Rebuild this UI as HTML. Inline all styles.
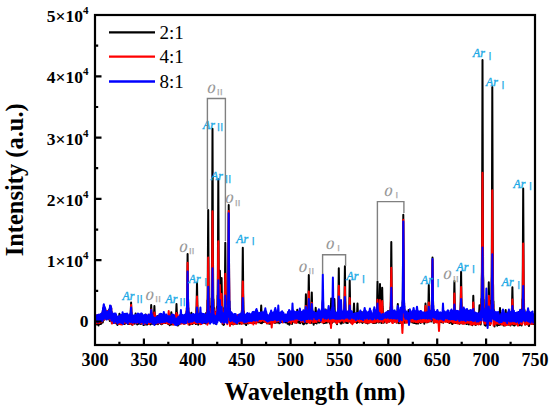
<!DOCTYPE html>
<html><head><meta charset="utf-8"><style>
html,body{margin:0;padding:0;background:#fff;width:550px;height:411px;overflow:hidden}
svg{display:block}
</style></head><body>
<svg width="550" height="411" viewBox="0 0 550 411">
<path d="M96.30 318.3 96.75 324.5 97.20 317.1 97.65 324.4 98.10 317.7 98.55 325.4 99.00 318.3 99.45 323.4 99.90 318.2 100.35 324.1 100.80 316.5 101.25 323.7 101.70 314.9 102.15 321.6 102.60 312.8 102.80 322.6 103.00 310.6 103.20 320.8 103.40 310.6 103.60 308.9 103.80 308.0 104.00 308.5 104.20 310.0 104.40 319.6 104.60 309.0 104.80 318.7 105.00 310.3 105.30 311.0 105.75 318.0 106.20 311.4 106.65 316.9 107.10 311.6 107.55 318.2 108.00 311.8 108.45 318.6 108.90 309.9 109.35 319.6 109.40 319.5 109.60 309.2 109.80 321.0 110.00 307.0 110.20 308.8 110.40 307.1 110.60 306.5 110.80 307.6 111.00 309.9 111.20 308.2 111.40 320.8 111.60 312.0 111.80 323.2 112.05 322.3 112.50 315.1 112.95 322.7 113.40 315.7 113.85 321.7 114.30 317.1 114.75 321.8 115.20 317.6 115.65 322.8 116.10 316.8 116.55 323.6 117.00 318.0 117.45 325.0 117.90 317.5 118.23 322.9 118.43 317.1 118.63 324.0 118.83 316.8 119.03 318.4 119.23 315.9 119.43 313.7 119.63 316.0 119.83 318.4 120.03 315.0 120.23 323.3 120.43 316.9 120.63 323.0 121.05 323.7 121.50 316.6 121.95 323.0 122.40 317.5 122.85 324.0 123.30 317.0 123.75 323.0 124.20 316.1 124.65 324.1 124.90 317.0 125.10 323.0 125.30 316.4 125.50 322.9 125.70 318.4 125.90 316.0 126.10 313.9 126.30 316.0 126.50 318.4 126.70 322.7 126.90 316.2 127.10 323.3 127.30 316.3 127.35 323.5 127.80 319.1 128.25 324.1 128.70 316.9 129.15 324.1 129.60 317.4 129.90 316.3 130.10 323.2 130.30 314.8 130.50 323.5 130.70 313.8 130.90 307.7 131.10 302.5 131.30 307.7 131.50 313.8 131.70 323.5 131.90 315.1 132.10 324.8 132.30 316.7 132.30 315.4 132.75 323.5 133.20 317.9 133.65 322.9 134.10 316.4 134.41 316.9 134.61 323.8 134.81 316.8 135.01 323.2 135.21 318.2 135.41 315.7 135.61 313.4 135.81 315.7 136.01 318.2 136.21 323.2 136.41 315.5 136.61 323.7 136.81 316.8 137.25 324.5 137.70 316.3 138.15 323.9 138.60 316.4 139.05 322.7 139.50 316.9 139.95 323.7 140.40 316.7 140.79 317.6 140.99 323.9 141.19 316.4 141.39 322.8 141.59 318.6 141.79 316.4 141.99 314.3 142.19 316.4 142.39 318.6 142.59 322.0 142.79 316.7 142.99 323.5 143.19 316.3 143.55 325.1 144.00 317.2 144.45 323.7 144.50 317.3 144.70 322.9 144.90 317.6 145.10 324.4 145.30 318.6 145.50 316.5 145.70 314.6 145.90 316.5 146.10 318.6 146.30 323.6 146.50 316.9 146.70 324.6 146.90 316.4 147.15 324.6 147.60 317.5 148.05 323.4 148.50 317.1 148.95 323.5 149.40 316.7 149.85 322.9 150.00 323.4 150.20 316.3 150.40 324.4 150.60 314.1 150.80 314.7 151.00 309.5 151.20 305.1 151.40 309.5 151.60 314.7 151.80 313.0 152.00 323.7 152.20 315.8 152.40 322.7 152.55 323.1 153.00 316.0 153.20 315.4 153.40 323.9 153.60 315.0 153.80 323.5 154.00 315.0 154.20 310.2 154.40 306.0 154.60 310.2 154.80 315.1 155.00 323.4 155.20 316.1 155.40 324.2 155.60 316.3 155.70 316.5 156.15 323.7 156.60 317.2 157.05 322.8 157.50 316.0 157.95 324.2 158.40 316.2 158.85 322.7 159.30 316.3 159.75 323.1 160.20 317.7 160.65 323.7 161.10 317.6 161.55 324.3 162.00 317.8 162.45 323.7 162.90 316.8 163.35 323.1 163.80 316.9 164.25 323.0 164.70 316.4 165.15 323.1 165.60 316.3 166.05 322.3 166.50 316.8 166.95 322.5 167.40 317.0 167.85 323.8 168.30 316.8 168.75 324.0 169.20 317.5 169.65 325.3 170.10 317.9 170.14 316.2 170.34 324.6 170.54 316.8 170.74 323.4 170.94 317.8 171.14 314.9 171.34 312.2 171.54 314.9 171.74 317.8 171.94 324.4 172.14 316.2 172.34 324.1 172.54 317.7 172.80 316.9 173.25 323.6 173.70 316.9 174.15 323.1 174.60 316.4 175.05 324.6 175.30 323.4 175.50 316.2 175.70 323.7 175.90 313.8 176.10 314.4 176.30 308.8 176.50 304.1 176.70 308.8 176.90 314.4 177.10 312.7 177.30 324.1 177.50 316.2 177.70 322.9 177.75 325.6 178.20 318.7 178.65 324.6 179.10 317.7 179.55 323.1 180.00 318.2 180.45 323.4 180.90 316.6 181.35 321.8 181.80 316.2 182.25 322.9 182.70 315.3 183.15 323.1 183.60 316.1 184.05 323.8 184.50 316.7 184.95 322.7 185.40 315.6 185.85 323.3 186.30 314.6 186.40 313.1 186.60 321.6 186.80 308.1 187.00 315.4 187.20 294.8 187.40 272.9 187.60 254.1 187.80 272.9 188.00 294.8 188.20 315.8 188.40 307.9 188.60 322.8 188.80 312.5 189.00 312.9 189.45 324.8 189.90 316.5 190.19 323.9 190.39 316.5 190.59 324.2 190.79 314.6 190.99 317.5 191.19 315.1 191.39 312.8 191.59 315.1 191.79 317.7 191.99 315.3 192.19 323.8 192.39 316.4 192.59 324.0 192.60 315.7 193.05 322.3 193.50 316.3 193.95 322.7 194.40 316.0 194.85 323.0 195.30 315.2 195.75 324.1 195.80 323.1 196.00 313.7 196.20 324.1 196.40 308.6 196.60 305.9 196.80 293.3 197.00 282.6 197.20 293.3 197.40 305.9 197.60 309.5 197.80 321.9 198.00 314.6 198.20 324.7 198.45 322.7 198.90 315.7 199.35 322.6 199.80 316.6 200.25 322.4 200.70 315.5 201.15 322.9 201.60 316.6 202.05 322.9 202.50 316.2 202.95 322.3 203.40 316.5 203.85 323.1 204.30 315.8 204.75 322.6 205.20 315.1 205.65 323.4 206.10 312.9 206.55 322.4 207.00 310.3 207.20 318.2 207.40 300.3 207.60 306.2 207.80 277.1 208.00 240.8 208.20 209.9 208.40 240.6 208.60 276.6 208.80 305.9 209.00 300.8 209.20 318.6 209.40 306.1 209.70 309.9 210.15 321.6 210.60 309.5 211.05 319.4 211.30 315.2 211.50 298.0 211.70 301.3 211.90 273.9 212.10 245.2 212.30 182.4 212.50 128.8 212.70 182.5 212.90 245.3 213.10 273.8 213.30 304.5 213.50 299.0 213.70 313.0 213.75 312.5 214.20 308.1 214.65 322.9 215.10 312.5 215.55 323.8 216.00 312.0 216.45 320.7 216.90 307.3 217.10 306.3 217.30 315.1 217.50 295.4 217.70 298.0 217.90 264.5 218.10 218.6 218.30 179.3 218.50 217.8 218.70 262.7 218.70 270.6 218.90 281.0 218.90 292.4 219.10 302.4 219.10 290.7 219.30 294.7 219.30 307.7 219.50 289.7 219.50 293.4 219.70 281.5 219.90 270.8 220.10 283.5 220.30 297.8 220.40 298.7 220.50 300.4 220.60 314.5 220.70 313.7 220.80 305.0 220.90 304.0 221.00 315.7 221.10 312.1 221.20 300.6 221.40 288.5 221.60 278.0 221.80 289.4 222.00 302.5 222.20 317.9 222.40 309.1 222.60 324.3 222.80 311.3 223.20 312.3 223.65 324.9 224.10 324.4 224.30 307.4 224.50 318.0 224.70 299.7 224.90 289.4 225.10 264.2 225.30 242.7 225.50 264.1 225.70 289.1 225.90 298.2 226.10 316.7 226.30 307.7 226.50 320.4 226.80 310.9 227.25 322.3 227.50 308.3 227.70 318.5 227.90 299.5 228.10 300.7 228.30 274.9 228.50 237.2 228.70 205.0 228.90 237.4 229.10 275.2 229.30 304.2 229.50 300.9 229.70 317.3 229.90 308.6 229.95 322.1 230.25 323.7 230.45 313.2 230.65 324.3 230.85 313.0 231.05 316.4 231.25 314.9 231.45 313.4 231.65 315.4 231.85 317.4 232.05 315.4 232.25 322.8 232.45 316.2 232.65 324.2 233.10 315.5 233.55 324.3 233.92 315.7 234.12 323.6 234.32 315.6 234.52 323.5 234.72 318.2 234.92 316.3 235.12 314.5 235.32 316.3 235.52 318.3 235.72 323.1 235.92 316.7 236.12 323.8 236.32 316.2 236.70 318.0 237.15 323.8 237.60 315.5 238.05 323.5 238.50 316.3 238.95 322.8 239.40 316.4 239.85 323.7 240.30 314.8 240.75 323.2 241.20 314.6 241.60 323.5 241.80 310.8 242.00 319.3 242.20 302.3 242.40 292.3 242.60 268.2 242.80 247.7 243.00 268.2 243.20 292.2 243.40 301.4 243.60 318.3 243.80 311.3 244.00 323.5 244.35 323.3 244.80 315.2 245.25 323.7 245.70 316.9 246.15 325.1 246.60 317.5 247.05 323.1 247.50 316.9 247.95 323.4 248.40 315.8 248.85 323.2 249.30 316.0 249.75 321.7 250.20 314.9 250.65 322.7 251.10 316.3 251.55 322.7 252.00 316.8 252.45 322.6 252.90 316.6 253.35 322.4 253.80 318.4 254.25 322.5 254.70 316.7 255.15 323.1 255.53 322.3 255.73 316.8 255.93 322.5 256.13 315.6 256.33 317.5 256.53 315.0 256.73 312.8 256.93 315.0 257.13 317.5 257.33 315.4 257.53 322.3 257.73 316.5 257.93 321.6 258.30 317.4 258.75 322.3 259.20 318.6 259.65 322.2 260.00 315.7 260.20 322.2 260.40 314.9 260.60 323.0 260.80 314.5 261.00 309.7 261.20 305.6 261.40 309.7 261.60 314.5 261.80 323.2 262.00 315.3 262.20 322.7 262.40 315.3 262.80 316.3 263.25 322.1 263.70 316.3 264.15 321.8 264.60 316.1 265.05 321.8 265.50 316.3 265.95 322.0 266.40 317.2 266.85 323.2 267.30 317.1 267.75 322.3 268.20 316.2 268.65 323.5 269.10 318.0 269.55 323.7 270.00 317.2 270.45 323.7 270.90 315.8 271.35 323.3 271.80 317.7 272.25 322.2 272.70 316.4 273.15 322.3 273.60 317.1 274.05 321.8 274.50 315.8 274.95 323.0 275.40 317.6 275.85 322.4 276.30 316.7 276.75 322.6 277.20 316.3 277.65 322.6 278.10 317.8 278.55 321.9 279.00 318.0 279.45 323.3 279.90 316.5 280.35 321.8 280.80 316.5 281.25 321.0 281.70 316.3 282.15 322.2 282.60 315.8 283.05 321.5 283.50 316.0 283.95 322.0 284.40 318.3 284.85 322.2 285.30 317.9 285.75 322.5 286.20 318.1 286.65 321.6 287.10 317.3 287.55 323.8 288.00 318.0 288.45 323.2 288.90 317.7 289.35 324.7 289.80 318.9 290.25 323.4 290.70 318.4 291.15 322.6 291.60 317.3 292.05 323.9 292.50 317.1 292.95 320.3 293.40 315.5 293.85 321.5 294.30 317.1 294.75 322.3 295.20 316.6 295.65 322.4 296.07 322.1 296.27 316.3 296.47 321.7 296.67 313.9 296.87 316.3 297.07 312.8 297.27 309.7 297.47 312.8 297.67 316.2 297.87 315.8 298.07 322.4 298.27 316.0 298.47 322.1 298.80 316.5 299.25 322.7 299.70 316.7 300.15 323.3 300.30 315.7 300.50 320.3 300.70 316.3 300.90 321.0 301.10 317.1 301.30 314.6 301.50 312.2 301.70 314.5 301.90 317.0 302.10 322.3 302.30 314.9 302.50 322.9 302.70 315.7 302.85 323.7 303.30 318.6 303.75 324.3 304.20 317.8 304.65 323.4 304.70 322.2 304.90 314.6 305.10 321.7 305.30 311.1 305.50 309.7 305.70 301.4 305.90 294.3 306.10 301.3 306.30 309.4 306.50 311.0 306.70 323.4 306.90 313.6 307.10 322.4 307.35 321.8 307.60 312.8 307.80 322.6 308.00 310.2 308.20 314.4 308.40 302.0 308.60 287.5 308.80 275.0 309.00 287.5 309.20 302.0 309.40 319.7 309.60 310.1 309.80 322.3 310.00 312.8 310.05 322.3 310.50 312.7 310.60 323.0 310.80 312.7 311.00 322.9 311.20 309.5 311.40 308.7 311.60 299.9 311.80 292.4 312.00 300.0 312.20 308.9 312.40 310.3 312.60 322.4 312.80 314.4 313.00 321.0 313.20 316.2 313.65 324.8 314.10 316.7 314.50 315.7 314.70 321.6 314.90 313.3 315.10 323.1 315.30 315.0 315.50 311.0 315.70 307.7 315.90 311.1 316.10 315.0 316.30 322.9 316.50 315.3 316.70 323.4 316.90 316.9 317.25 321.9 317.70 316.2 318.15 320.5 318.60 315.8 319.05 322.7 319.50 316.1 319.95 322.2 320.40 314.9 320.85 320.8 321.30 315.5 321.60 321.5 321.80 315.4 322.00 321.6 322.20 312.3 322.40 312.1 322.60 305.6 322.80 300.0 323.00 305.5 323.20 312.0 323.40 312.1 323.60 323.3 323.80 314.1 324.00 322.9 324.00 315.3 324.45 320.7 324.48 316.2 324.68 321.4 324.88 314.8 325.08 322.9 325.28 315.9 325.48 312.5 325.68 309.4 325.88 312.5 326.08 316.0 326.28 322.0 326.48 314.9 326.68 322.7 326.88 315.0 327.15 322.4 327.60 315.8 328.05 321.7 328.50 317.1 328.95 321.5 329.40 316.7 329.85 323.5 330.00 315.0 330.20 322.1 330.40 314.1 330.60 319.6 330.80 311.4 331.00 304.4 331.20 298.4 331.40 304.3 331.60 311.3 331.80 320.6 332.00 313.7 332.20 322.7 332.40 315.8 332.55 321.7 333.00 314.3 333.20 321.4 333.40 314.2 333.60 321.6 333.80 311.6 334.00 311.5 334.20 304.7 334.40 299.0 334.60 304.7 334.80 311.5 335.00 312.0 335.20 321.7 335.40 315.2 335.60 322.1 335.70 314.4 336.15 321.4 336.60 315.3 337.05 324.2 337.50 314.0 337.60 313.6 337.80 321.1 338.00 309.9 338.20 315.9 338.40 299.6 338.60 282.7 338.80 268.2 339.00 282.7 339.20 299.6 339.40 315.9 339.60 310.5 339.80 321.9 340.00 312.9 340.20 314.6 340.65 323.4 341.10 315.9 341.55 323.4 342.00 314.8 342.45 322.4 342.90 315.0 343.35 321.5 343.70 322.8 343.90 311.1 344.10 320.0 344.30 305.4 344.50 298.9 344.70 281.3 344.90 266.3 345.10 281.3 345.30 298.8 345.50 305.2 345.70 321.2 345.90 312.0 346.10 322.8 346.50 315.0 346.95 322.9 347.40 317.0 347.85 322.9 348.30 314.1 348.50 313.0 348.70 321.3 348.90 310.8 349.10 318.0 349.30 304.3 349.50 291.5 349.70 280.5 349.90 291.5 350.10 304.4 350.30 321.9 350.50 310.7 350.70 321.9 350.90 313.7 351.00 315.1 351.45 322.9 351.90 315.3 352.35 322.6 352.80 321.6 353.00 315.0 353.20 322.3 353.40 312.8 353.60 313.3 353.80 308.0 354.00 303.5 354.20 308.0 354.40 313.3 354.60 312.7 354.80 321.7 355.00 316.1 355.20 322.0 355.50 315.1 355.95 320.8 356.30 315.9 356.50 321.8 356.70 313.0 356.90 322.9 357.10 313.4 357.30 308.1 357.50 303.6 357.70 308.2 357.90 313.5 358.10 322.1 358.30 315.3 358.50 321.4 358.70 315.4 359.10 314.5 359.55 320.9 360.00 314.1 360.45 321.2 360.65 316.0 360.85 321.8 361.05 315.9 361.25 321.5 361.45 317.1 361.65 314.5 361.85 312.1 362.05 314.5 362.25 317.1 362.45 322.9 362.65 316.8 362.85 322.5 363.05 316.2 363.15 320.0 363.60 315.3 364.05 320.5 364.50 315.8 364.95 321.3 365.40 318.1 365.85 322.7 366.30 316.4 366.75 323.1 367.20 317.7 367.65 323.4 368.10 318.2 368.55 322.1 369.00 318.6 369.45 322.4 369.90 316.7 370.35 321.9 370.80 315.8 371.25 322.3 371.70 316.0 372.15 321.8 372.60 317.2 373.05 322.9 373.50 317.9 373.95 322.9 374.40 317.7 374.85 323.0 375.30 317.1 375.75 322.1 376.20 313.3 376.30 322.8 376.50 313.2 376.70 321.9 376.90 307.9 377.10 304.7 377.30 292.2 377.50 281.5 377.70 292.0 377.90 304.3 378.10 306.7 378.30 317.3 378.50 311.5 378.70 322.4 378.80 311.6 379.00 322.4 379.20 311.1 379.40 317.1 379.60 305.1 379.80 293.7 380.00 284.0 380.20 293.7 380.40 305.0 380.60 315.2 380.80 310.0 381.00 319.9 381.00 322.0 381.20 311.0 381.20 312.0 381.40 323.1 381.60 308.2 381.80 306.5 382.00 296.4 382.20 287.8 382.40 296.7 382.60 307.0 382.80 308.2 383.00 322.5 383.20 314.3 383.40 322.7 383.40 314.3 383.85 322.6 384.30 317.1 384.75 321.0 385.20 315.5 385.65 320.9 386.10 314.5 386.55 322.7 386.85 322.4 387.05 316.0 387.25 322.3 387.45 313.8 387.65 316.3 387.85 313.6 388.05 311.0 388.25 313.4 388.45 316.0 388.65 314.1 388.85 321.6 389.05 314.9 389.25 321.7 389.70 312.0 390.10 310.7 390.30 319.0 390.50 307.1 390.70 311.0 390.90 289.4 391.10 263.8 391.30 242.0 391.50 263.9 391.70 289.4 391.90 309.6 392.10 305.8 392.30 315.0 392.50 311.3 392.85 320.5 393.30 312.6 393.75 320.4 394.20 314.5 394.65 321.7 395.10 316.0 395.55 320.8 396.00 315.7 396.45 321.1 396.60 320.5 396.80 315.5 397.00 322.7 397.20 314.1 397.40 313.5 397.60 308.4 397.80 304.0 398.00 308.3 398.20 313.4 398.40 314.0 398.60 321.9 398.80 313.8 399.00 323.2 399.15 321.9 399.60 315.1 400.05 323.0 400.50 313.4 400.95 322.2 401.40 312.7 401.85 321.4 402.10 310.1 402.30 319.2 402.50 301.9 402.70 304.4 402.90 278.8 403.10 244.2 403.30 214.7 403.50 244.3 403.70 278.8 403.90 304.5 404.10 302.7 404.30 318.9 404.50 309.2 404.55 322.7 405.00 312.3 405.45 322.5 405.90 315.2 406.35 321.7 406.80 315.2 407.25 322.1 407.37 316.2 407.57 322.1 407.77 315.6 407.97 321.7 408.17 316.1 408.37 312.9 408.57 310.0 408.77 313.0 408.97 316.2 409.17 322.1 409.37 315.6 409.57 322.4 409.77 315.5 409.95 320.7 410.40 313.3 410.85 319.5 411.30 313.3 411.75 320.6 411.91 322.1 412.11 316.2 412.31 322.5 412.51 314.9 412.71 316.7 412.91 313.8 413.11 311.1 413.31 313.8 413.51 316.7 413.71 314.8 413.91 323.0 414.11 316.3 414.31 322.3 414.45 322.1 414.90 316.2 415.35 322.9 415.80 316.3 416.25 323.6 416.70 317.2 417.15 323.0 417.60 316.6 418.05 323.6 418.50 318.7 418.95 322.4 419.40 317.2 419.85 322.3 420.30 316.7 420.75 322.9 421.20 317.3 421.65 321.4 422.10 317.7 422.55 321.8 423.00 316.3 423.45 321.7 423.90 317.3 424.30 323.8 424.50 314.6 424.70 320.4 424.90 313.7 425.10 313.4 425.30 308.1 425.50 303.5 425.70 308.0 425.90 313.2 426.10 312.5 426.30 322.2 426.50 315.7 426.70 322.1 427.05 322.3 427.50 312.8 427.60 314.2 427.80 322.2 428.00 311.7 428.20 320.8 428.40 306.0 428.60 294.6 428.80 284.9 429.00 294.6 429.20 305.9 429.40 321.5 429.60 310.9 429.80 321.2 430.00 314.1 430.20 313.3 430.65 320.7 431.10 313.0 431.30 321.4 431.50 310.7 431.70 317.5 431.90 303.0 432.10 295.4 432.30 275.0 432.50 257.5 432.70 275.0 432.90 295.5 433.10 303.5 433.30 320.2 433.50 310.5 433.70 322.8 433.80 313.4 434.25 322.5 434.70 315.5 435.15 321.7 435.60 314.9 436.05 322.3 436.50 317.0 436.95 321.4 437.40 315.6 437.85 321.4 438.30 315.2 438.75 322.3 439.20 316.8 439.65 322.0 440.10 316.6 440.55 321.0 441.00 316.4 441.45 322.2 441.90 316.4 442.35 321.8 442.80 317.1 443.25 322.7 443.70 316.1 444.15 320.5 444.60 316.1 445.05 320.4 445.50 315.3 445.95 320.9 446.40 316.0 446.85 321.1 447.30 315.8 447.75 322.0 448.20 315.7 448.65 321.6 449.10 316.5 449.55 323.0 450.00 316.6 450.45 321.4 450.90 315.8 451.35 322.8 451.80 316.1 452.25 324.1 452.70 316.7 453.15 322.0 453.20 314.5 453.40 323.2 453.60 312.2 453.80 318.0 454.00 305.0 454.20 292.1 454.40 281.0 454.60 292.1 454.80 305.0 455.00 318.9 455.20 311.2 455.40 323.0 455.60 315.1 455.85 321.4 456.30 313.5 456.75 322.9 457.20 316.0 457.65 321.8 458.10 314.4 458.55 322.8 459.00 315.7 459.45 323.9 459.90 323.4 460.10 312.3 460.30 322.7 460.50 306.7 460.70 301.5 460.90 285.4 461.10 271.7 461.30 285.5 461.50 301.6 461.70 306.3 461.90 321.8 462.10 312.8 462.30 323.4 462.60 313.4 463.05 323.3 463.50 315.8 463.95 323.4 464.40 316.5 464.85 322.4 465.30 317.1 465.75 323.5 466.20 317.2 466.65 324.1 467.08 317.4 467.28 323.0 467.48 315.2 467.68 323.4 467.88 317.1 468.08 313.8 468.28 310.8 468.48 313.8 468.68 317.1 468.88 324.4 469.08 315.4 469.28 324.2 469.48 316.0 469.80 317.5 470.25 323.9 470.70 316.7 471.15 323.7 471.60 316.3 472.05 323.3 472.10 315.0 472.30 325.2 472.50 312.7 472.70 324.5 472.90 311.1 473.10 302.8 473.30 295.8 473.50 302.8 473.70 311.0 473.90 323.9 474.10 313.7 474.30 324.0 474.50 314.6 474.75 323.5 475.20 316.5 475.65 325.1 476.10 316.5 476.55 323.7 477.00 315.6 477.45 323.8 477.90 314.9 478.30 322.7 478.50 314.3 478.70 323.2 478.90 312.4 479.10 313.9 479.30 309.3 479.50 305.3 479.70 308.5 479.90 312.3 480.10 309.1 480.30 322.1 480.50 311.0 480.70 324.4 481.05 318.9 481.30 298.7 481.50 307.3 481.70 280.3 481.90 271.5 482.10 219.2 482.30 133.4 482.50 60.1 482.70 133.4 482.90 219.2 483.10 275.0 483.30 280.1 483.50 307.6 483.70 299.6 483.75 316.3 484.20 309.2 484.65 325.0 485.10 314.4 485.55 325.7 486.00 315.5 486.45 325.3 486.90 315.2 487.35 324.7 487.60 325.3 487.80 311.4 488.00 322.6 488.20 306.4 488.40 304.9 488.60 292.7 488.80 282.3 489.00 292.4 489.20 304.2 489.40 305.7 489.60 322.7 489.80 309.1 490.00 325.1 490.05 324.7 490.50 308.1 490.95 315.0 491.10 300.6 491.30 307.6 491.50 284.0 491.70 276.6 491.90 229.5 492.10 152.7 492.30 87.0 492.50 152.7 492.70 229.7 492.90 278.6 493.10 285.8 493.30 305.9 493.50 301.3 493.65 319.6 494.10 310.2 494.55 326.4 494.67 324.5 494.87 313.5 495.07 323.7 495.27 313.4 495.47 316.5 495.67 314.5 495.87 312.7 496.07 315.0 496.27 317.3 496.47 315.0 496.67 323.8 496.87 315.7 497.07 325.1 497.25 325.7 497.70 316.8 498.15 324.9 498.60 316.6 498.80 324.5 499.00 315.6 499.20 324.9 499.40 313.9 499.60 315.8 499.80 311.6 500.00 308.0 500.20 311.7 500.40 315.9 500.60 314.8 500.80 324.5 501.00 316.0 501.20 324.2 501.30 315.6 501.75 322.8 502.20 316.5 502.65 322.8 503.10 315.1 503.55 325.5 504.00 315.6 504.45 325.6 504.50 316.6 504.70 324.3 504.90 316.1 505.10 324.3 505.30 316.8 505.50 313.1 505.70 310.0 505.90 313.1 506.10 316.8 506.30 324.6 506.50 314.5 506.70 324.0 506.90 316.2 507.15 324.0 507.60 316.3 508.05 324.8 508.46 324.3 508.66 316.4 508.86 324.3 509.06 315.7 509.26 318.1 509.46 315.4 509.66 313.0 509.86 315.3 510.06 317.8 510.26 316.1 510.46 325.5 510.66 315.6 510.86 323.6 511.20 323.6 511.40 313.1 511.60 324.3 511.80 309.7 512.00 307.9 512.20 296.7 512.40 287.2 512.60 296.8 512.80 308.0 513.00 309.0 513.20 325.1 513.40 315.1 513.60 324.8 513.90 316.1 514.35 325.6 514.80 315.8 515.25 324.8 515.70 316.6 516.15 323.1 516.60 316.1 517.05 323.8 517.50 315.7 517.51 324.8 517.71 315.9 517.91 325.2 518.11 315.0 518.31 317.6 518.51 314.7 518.71 311.9 518.91 314.6 519.11 317.4 519.31 314.3 519.51 325.2 519.71 315.5 519.91 324.5 520.20 314.8 520.65 324.3 521.10 316.0 521.55 325.4 522.00 308.8 522.20 319.9 522.40 299.1 522.60 303.0 522.80 269.6 523.00 225.9 523.20 188.6 523.40 225.9 523.60 269.6 523.80 302.2 524.00 299.3 524.20 320.9 524.40 309.6 524.70 311.8 525.15 324.4 525.60 314.9 526.05 324.2 526.50 316.2 526.64 323.6 526.84 315.3 527.04 323.2 527.24 314.9 527.44 317.5 527.64 314.6 527.84 311.9 528.04 314.7 528.24 317.8 528.30 321.1 529.00 326.0 529.70 321.1 530.10 316.0 530.55 323.3 531.00 317.4 531.45 323.8 531.90 316.9 532.35 323.5 532.80 316.7 533.25 324.1 533.70 317.3" stroke="#000" stroke-width="2" fill="none" stroke-linejoin="round"/>
<path d="M96.30 316.1 96.75 323.3 97.20 314.9 97.65 322.6 98.10 316.2 98.55 322.8 99.00 316.9 99.45 323.0 99.90 316.7 100.35 322.3 100.80 316.9 101.25 322.2 101.70 315.5 102.15 321.4 102.60 311.9 102.80 320.3 103.00 309.8 103.20 318.1 103.40 309.7 103.60 307.9 103.80 307.0 104.00 307.6 104.20 309.1 104.40 319.5 104.60 307.8 104.80 317.5 105.00 309.8 105.30 309.5 105.75 318.5 106.20 312.7 106.65 318.2 107.10 311.0 107.55 317.0 108.00 311.5 108.45 317.9 108.90 312.1 109.35 318.7 109.40 319.0 109.60 310.8 109.80 319.4 110.00 306.5 110.20 308.7 110.40 307.1 110.60 306.5 110.80 307.6 111.00 309.7 111.20 308.0 111.40 321.2 111.60 312.1 111.80 321.3 112.05 323.5 112.50 315.9 112.95 323.0 113.40 316.4 113.85 322.8 114.30 316.2 114.75 322.9 115.20 316.8 115.65 322.3 116.10 317.1 116.55 322.3 117.00 317.4 117.45 322.5 117.90 316.7 118.35 324.0 118.80 317.8 119.25 323.8 119.70 317.3 120.15 324.3 120.60 318.9 121.05 322.3 121.50 317.5 121.95 324.6 122.40 317.5 122.85 323.0 123.30 316.6 123.75 323.5 124.20 316.3 124.65 321.7 125.10 317.4 125.55 322.6 126.00 317.4 126.45 323.0 126.90 315.9 127.35 322.5 127.80 315.5 128.25 322.5 128.70 316.4 129.15 323.7 129.60 316.4 129.90 315.6 130.10 323.7 130.30 315.1 130.50 322.8 130.70 314.4 130.90 309.3 131.10 305.0 131.30 309.3 131.50 314.4 131.70 323.4 131.90 316.1 132.10 323.3 132.30 316.1 132.30 316.0 132.75 324.7 133.20 316.3 133.65 322.5 134.10 317.3 134.55 322.0 135.00 318.2 135.45 323.0 135.90 316.8 136.35 322.3 136.80 317.7 137.25 322.9 137.70 317.2 138.15 321.7 138.60 316.3 139.05 322.1 139.50 315.8 139.95 322.2 140.40 316.3 140.85 323.1 141.30 317.0 141.75 323.4 142.20 316.9 142.65 323.2 143.10 317.7 143.55 323.3 144.00 319.2 144.45 324.0 144.90 318.2 145.35 323.7 145.38 315.8 145.58 322.1 145.78 316.9 145.98 322.9 146.18 318.5 146.38 316.7 146.58 315.0 146.78 316.7 146.98 318.5 147.18 323.3 147.38 315.9 147.58 322.8 147.78 316.8 148.05 322.7 148.50 316.9 148.95 324.1 149.40 317.9 149.85 323.1 150.00 321.7 150.20 315.4 150.40 322.5 150.60 314.0 150.80 316.1 151.00 312.6 151.20 309.5 151.40 312.5 151.60 316.1 151.80 313.6 152.00 322.3 152.20 316.5 152.40 323.0 152.55 322.2 153.00 316.5 153.20 317.2 153.40 323.4 153.60 315.6 153.80 323.6 154.00 317.2 154.20 314.6 154.40 312.4 154.60 314.6 154.80 317.3 155.00 321.9 155.20 315.7 155.40 323.3 155.60 317.4 155.70 317.7 156.15 323.3 156.60 318.6 157.05 323.3 157.50 317.1 157.95 323.5 158.40 316.3 158.85 322.9 159.30 316.6 159.75 322.8 160.20 315.9 160.65 320.9 161.10 317.2 161.55 323.7 162.00 317.5 162.45 323.1 162.90 316.2 163.35 321.8 163.80 316.9 164.25 323.1 164.70 316.5 165.15 321.9 165.60 316.4 166.05 322.7 166.50 315.9 166.95 322.9 167.40 316.5 167.50 323.5 167.70 316.9 167.90 323.1 168.10 315.6 168.30 316.8 168.50 313.7 168.70 311.0 168.90 313.6 169.10 316.7 169.30 314.4 169.50 324.0 169.70 316.0 169.90 323.0 170.10 315.4 170.55 322.8 171.00 316.5 171.45 322.4 171.90 317.6 172.35 323.4 172.80 318.1 173.25 324.7 173.70 316.7 174.15 323.9 174.60 315.4 175.05 322.5 175.30 315.6 175.50 322.8 175.70 315.8 175.90 323.5 176.10 317.5 176.30 315.0 176.50 312.9 176.70 315.0 176.90 317.5 177.10 323.3 177.30 314.9 177.50 323.7 177.70 315.2 177.75 322.6 178.20 317.1 178.65 322.5 179.10 317.3 179.55 322.7 180.00 316.6 180.45 323.4 180.90 317.4 181.35 323.6 181.80 318.0 182.25 322.9 182.70 317.3 183.15 323.4 183.60 317.0 184.05 323.7 184.50 316.6 184.95 323.6 185.40 316.9 185.85 323.1 186.30 315.0 186.40 323.0 186.60 310.9 186.80 319.6 187.00 303.6 187.20 297.9 187.40 279.0 187.60 262.8 187.80 279.0 188.00 297.9 188.20 303.0 188.40 324.4 188.60 312.2 188.80 322.9 189.00 314.8 189.45 322.6 189.90 315.6 190.35 321.6 190.80 316.0 190.86 315.9 191.06 324.1 191.26 316.7 191.46 323.1 191.66 318.1 191.86 316.4 192.06 314.9 192.26 316.5 192.46 318.2 192.66 323.2 192.86 315.4 193.06 322.6 193.26 316.1 193.50 317.3 193.95 322.8 194.40 317.1 194.85 323.1 195.30 315.9 195.75 322.5 195.80 314.7 196.00 322.5 196.20 313.1 196.40 323.4 196.60 311.0 196.80 303.2 197.00 296.6 197.20 303.2 197.40 311.0 197.60 322.8 197.80 313.8 198.00 322.5 198.20 315.0 198.45 322.1 198.90 316.5 199.35 323.2 199.80 317.8 200.25 324.3 200.70 317.6 201.15 324.1 201.60 317.1 202.05 323.3 202.50 315.4 202.95 323.3 203.40 315.4 203.85 322.8 204.30 314.7 204.75 322.3 205.20 314.8 205.65 321.2 206.10 314.6 206.55 322.7 207.00 323.8 207.20 310.4 207.40 324.7 207.60 303.4 207.80 295.6 208.00 275.1 208.20 257.6 208.40 275.0 208.60 295.3 208.80 302.5 209.00 320.7 209.20 310.6 209.40 323.3 209.70 311.8 210.15 322.3 210.60 311.9 211.05 321.1 211.30 308.3 211.50 318.5 211.70 301.2 211.90 306.0 212.10 277.3 212.30 241.7 212.50 211.2 212.70 241.7 212.90 277.4 213.10 305.1 213.30 300.8 213.50 319.3 213.70 309.3 213.75 319.9 214.20 311.3 214.65 320.4 215.10 313.0 215.55 321.1 216.00 312.3 216.45 320.2 216.90 309.8 217.10 320.8 217.30 308.7 217.50 317.4 217.70 298.5 217.90 288.7 218.10 263.2 218.30 241.2 218.50 262.5 218.70 284.3 218.70 287.4 218.90 295.5 218.90 309.7 219.10 300.7 219.10 313.7 219.30 301.3 219.30 312.6 219.50 302.1 219.50 311.0 219.70 293.0 219.90 285.0 220.10 294.1 220.30 304.5 220.40 316.3 220.50 317.5 220.60 307.3 220.70 306.4 220.80 319.9 220.90 314.3 221.00 307.8 221.10 305.6 221.20 307.8 221.40 300.4 221.60 294.0 221.80 301.0 222.00 309.0 222.20 308.2 222.40 322.8 222.60 313.0 222.80 323.5 223.20 314.0 223.65 321.2 224.10 312.3 224.30 322.9 224.50 309.5 224.70 315.3 224.90 301.4 225.10 286.5 225.30 273.7 225.50 286.3 225.70 301.1 225.90 319.1 226.10 309.3 226.30 318.3 226.50 310.7 226.80 311.1 227.25 324.2 227.50 321.9 227.70 305.6 227.90 312.2 228.10 291.3 228.30 277.2 228.50 241.4 228.70 210.9 228.90 241.6 229.10 277.4 229.30 293.0 229.30 320.0 230.00 326.0 230.70 320.0 230.85 322.7 231.30 316.0 231.75 323.1 232.20 317.3 232.65 323.7 233.10 316.3 233.55 324.2 234.00 317.6 234.45 324.1 234.90 318.4 235.35 323.1 235.80 316.8 236.25 323.6 236.70 315.9 237.15 322.7 237.60 315.2 238.05 323.1 238.50 315.1 238.95 321.8 239.40 316.8 239.85 321.8 240.30 315.2 240.75 322.6 241.20 315.0 241.60 313.8 241.80 324.1 242.00 310.9 242.20 319.7 242.40 305.2 242.60 292.5 242.80 281.6 243.00 292.4 243.20 305.1 243.40 319.7 243.60 310.9 243.80 322.7 244.00 314.2 244.35 322.2 244.80 316.5 245.25 322.5 245.70 316.7 246.15 322.9 246.60 316.7 247.05 322.3 247.50 317.0 247.95 322.5 248.03 315.6 248.23 321.8 248.43 315.6 248.63 323.3 248.83 318.6 249.03 317.4 249.23 316.3 249.43 317.4 249.63 318.6 249.83 323.0 250.03 315.7 250.23 322.7 250.43 317.1 250.65 321.4 251.10 316.8 251.55 323.3 252.00 316.8 252.45 322.9 252.90 318.5 253.35 324.4 253.80 317.2 254.25 322.2 254.70 318.0 255.15 321.4 255.60 316.2 256.05 323.8 256.50 316.1 256.95 322.1 257.40 317.2 257.85 321.2 258.30 315.9 258.75 321.4 259.20 316.2 259.65 321.3 260.10 316.1 260.55 321.5 261.00 314.5 261.45 321.1 261.90 315.7 262.35 320.1 262.80 315.7 263.25 320.2 263.70 314.8 264.15 321.5 264.60 315.8 265.05 322.0 265.44 315.5 265.64 321.6 265.84 315.3 266.04 322.2 266.24 317.8 266.44 316.1 266.64 314.5 266.84 316.1 267.04 317.7 267.24 323.4 267.44 315.3 267.64 321.9 267.84 316.0 268.20 316.4 268.65 323.1 269.10 316.7 269.55 322.4 269.61 316.3 269.81 322.2 270.01 316.0 270.21 321.6 270.41 317.3 270.61 315.1 270.81 313.2 271.00 319.1 271.70 327.5 272.40 319.1 272.70 317.8 273.15 322.5 273.60 316.5 274.05 322.5 274.50 316.3 274.95 322.5 275.40 315.0 275.85 320.9 276.30 316.0 276.75 321.6 277.20 317.7 277.65 321.2 278.10 315.4 278.55 320.7 279.00 315.9 279.45 321.3 279.90 315.6 280.35 321.0 280.80 316.1 281.25 320.5 281.70 315.7 282.15 321.1 282.60 315.9 283.05 322.5 283.50 316.1 283.95 320.4 284.40 316.5 284.85 321.1 285.30 314.8 285.75 320.4 286.20 315.9 286.65 320.7 287.10 316.0 287.55 321.0 288.00 316.2 288.45 322.1 288.90 316.0 289.35 321.6 289.80 316.8 290.25 321.4 290.70 316.6 291.15 323.3 291.60 316.5 292.05 321.3 292.50 315.6 292.95 321.0 293.40 318.1 293.85 321.7 294.03 321.4 294.23 315.4 294.43 322.5 294.63 315.2 294.83 317.9 295.03 316.5 295.23 315.1 295.43 316.4 295.63 317.9 295.83 315.7 296.03 321.6 296.23 315.4 296.43 322.9 296.55 320.8 297.00 313.5 297.45 320.3 297.90 314.8 298.35 318.8 298.80 314.2 299.25 319.9 299.70 315.9 300.15 320.1 300.60 314.2 301.03 321.7 301.23 315.8 301.43 320.8 301.63 316.4 301.83 317.7 302.03 316.2 302.23 314.8 302.43 316.1 302.63 317.6 302.83 314.9 303.03 321.8 303.23 315.7 303.43 322.0 303.75 320.1 304.20 316.0 304.65 321.6 304.70 320.6 304.90 315.0 305.10 320.8 305.30 313.0 305.50 314.0 305.70 309.7 305.90 306.0 306.10 309.6 306.30 313.8 306.50 312.8 306.70 322.0 306.90 313.2 307.10 321.5 307.35 322.0 307.60 313.1 307.80 320.9 308.00 312.0 308.20 322.0 308.40 308.3 308.60 299.2 308.80 291.4 309.00 299.2 309.20 308.3 309.40 322.8 309.60 312.7 309.80 321.5 310.00 313.8 310.05 323.1 310.50 314.8 310.60 321.6 310.80 314.7 311.00 320.6 311.20 312.9 311.40 312.6 311.60 307.3 311.80 302.8 312.00 307.4 312.20 312.8 312.40 312.5 312.60 320.8 312.80 313.6 313.00 322.3 313.20 316.3 313.65 320.5 314.10 316.1 314.55 322.2 315.00 316.4 315.45 321.6 315.90 315.5 316.35 321.9 316.80 315.2 317.25 320.5 317.70 315.9 318.15 320.0 318.60 314.5 319.05 320.9 319.50 315.5 319.95 320.9 320.40 314.5 320.85 320.0 321.30 315.0 321.60 316.3 321.80 321.3 322.00 313.1 322.20 322.5 322.40 312.6 322.60 306.9 322.80 302.0 323.00 306.9 323.20 312.6 323.40 322.3 323.60 314.8 323.80 321.4 324.00 314.4 324.00 315.5 324.45 321.9 324.90 315.7 325.35 320.9 325.80 316.1 326.25 320.9 326.70 314.6 327.15 320.4 327.60 316.3 328.05 321.8 328.50 316.4 328.95 321.1 329.40 316.3 329.85 321.5 330.30 319.0 331.00 328.0 331.70 319.0 332.10 315.5 332.55 320.7 333.00 315.9 333.45 321.8 333.90 315.3 334.35 320.8 334.80 315.7 335.25 320.5 335.70 316.9 336.15 323.0 336.60 316.3 337.05 323.3 337.50 315.5 337.60 321.7 337.80 313.4 338.00 321.9 338.20 308.2 338.40 306.2 338.60 295.2 338.80 285.7 339.00 295.1 339.20 306.2 339.40 308.7 339.60 321.8 339.80 312.4 340.00 321.3 340.20 313.8 340.65 321.3 341.10 314.3 341.55 320.2 342.00 314.4 342.45 320.1 342.90 316.0 343.35 321.5 343.70 314.6 343.90 322.1 344.10 312.4 344.30 320.4 344.50 306.7 344.70 296.1 344.90 287.0 345.10 296.1 345.30 306.7 345.50 318.1 345.70 311.2 345.90 320.9 346.10 313.3 346.50 314.1 346.95 320.9 347.40 314.1 347.85 320.9 348.30 314.3 348.50 321.8 348.70 314.3 348.90 321.1 349.10 311.5 349.30 311.0 349.50 304.0 349.70 298.0 349.90 304.0 350.10 311.0 350.30 312.1 350.50 320.9 350.70 313.6 350.90 322.0 351.00 314.4 351.45 323.1 351.90 317.2 352.35 324.2 352.80 318.1 353.25 322.8 353.70 317.1 354.15 321.1 354.60 316.2 355.05 322.3 355.50 316.2 355.95 321.5 356.40 315.5 356.85 320.5 357.30 314.9 357.75 320.6 358.20 315.8 358.65 321.1 359.10 315.6 359.55 322.5 360.00 317.4 360.45 320.7 360.90 316.4 361.35 321.1 361.80 316.4 362.25 321.7 362.70 315.9 363.15 321.3 363.60 314.8 364.05 320.2 364.50 315.5 364.95 322.5 365.40 315.9 365.85 321.0 366.30 316.5 366.75 322.7 367.20 315.4 367.65 322.0 368.10 315.6 368.17 316.3 368.37 322.7 368.57 315.8 368.77 321.2 368.97 317.3 369.17 315.5 369.37 313.7 369.57 315.4 369.77 317.3 369.97 322.2 370.17 314.8 370.37 321.1 370.57 316.2 370.80 316.4 371.25 322.0 371.70 315.3 372.15 321.3 372.53 321.4 372.73 315.8 372.93 322.6 373.13 314.2 373.33 317.2 373.53 315.2 373.73 313.4 373.93 315.2 374.13 317.1 374.33 314.2 374.53 322.4 374.73 315.5 374.93 322.1 375.30 315.6 375.75 321.8 376.20 316.9 376.30 314.0 376.50 320.8 376.70 314.5 376.90 319.3 377.10 311.6 377.30 305.2 377.50 299.7 377.70 305.1 377.90 311.3 378.10 322.0 378.30 312.4 378.50 320.5 378.70 313.2 378.80 321.3 379.00 314.3 379.20 321.6 379.40 311.0 379.60 311.4 379.80 305.3 380.00 300.0 380.20 305.2 380.40 311.3 380.60 311.4 380.80 321.5 381.00 313.4 381.00 313.7 381.20 320.6 381.20 320.7 381.40 312.4 381.60 320.3 381.80 311.7 382.00 305.9 382.20 301.0 382.40 306.1 382.60 312.0 382.80 322.4 383.00 314.5 383.20 322.4 383.40 315.4 383.40 313.8 383.85 320.6 384.30 314.9 384.75 320.5 385.20 315.5 385.65 321.4 386.10 316.1 386.55 322.6 387.00 317.6 387.45 322.4 387.90 315.9 388.35 321.5 388.80 315.4 389.25 321.5 389.70 314.0 390.10 321.1 390.30 311.3 390.50 321.2 390.70 304.9 390.90 299.2 391.10 282.3 391.30 267.8 391.50 282.3 391.70 299.2 391.90 305.0 392.10 322.8 392.30 311.1 392.50 320.9 392.85 323.1 393.30 314.9 393.75 321.3 393.85 320.9 394.05 315.7 394.25 321.3 394.45 315.2 394.65 317.1 394.85 315.6 395.05 314.1 395.25 315.6 395.45 317.3 395.65 314.8 395.85 321.7 396.05 314.9 396.25 322.5 396.45 322.4 396.90 316.3 397.35 322.0 397.80 315.8 398.25 321.0 398.70 315.7 399.15 321.2 399.60 314.9 400.05 322.6 400.50 315.2 400.95 320.8 401.40 313.0 401.70 319.0 402.40 333.0 403.10 319.0 403.10 247.8 403.30 219.8 403.50 247.8 403.70 280.5 403.90 308.3 404.10 302.9 404.30 318.1 404.50 310.1 404.55 319.9 405.00 313.4 405.45 322.2 405.90 316.2 406.35 322.8 406.80 316.6 407.25 322.4 407.70 315.4 408.15 322.4 408.60 316.4 409.05 321.3 409.50 316.5 409.95 320.6 410.40 316.0 410.85 320.8 411.30 317.2 411.75 321.7 412.20 315.9 412.65 320.8 413.10 315.0 413.55 321.1 413.61 321.7 413.81 315.5 414.01 321.1 414.21 314.6 414.41 317.3 414.61 315.4 414.81 313.7 415.01 315.4 415.21 317.3 415.41 314.9 415.61 322.1 415.81 316.9 416.01 321.3 416.25 320.7 416.70 315.7 417.15 322.0 417.60 316.6 418.05 322.4 418.50 316.5 418.95 320.9 419.40 315.9 419.62 315.9 419.82 321.5 420.02 316.9 420.22 321.9 420.42 318.1 420.62 317.0 420.82 315.9 421.02 317.0 421.22 318.1 421.42 322.0 421.62 316.2 421.82 321.4 422.02 316.3 422.10 316.8 422.55 322.2 423.00 315.8 423.45 321.5 423.90 314.5 424.30 321.6 424.50 314.6 424.70 320.8 424.90 313.1 425.10 314.1 425.30 309.7 425.50 306.0 425.70 309.7 425.90 314.0 426.10 313.0 426.30 322.2 426.50 315.0 426.70 320.8 427.05 319.5 427.50 314.1 427.60 314.5 427.80 320.9 428.00 313.5 428.20 321.9 428.40 312.5 428.60 307.1 428.80 302.4 429.00 307.0 429.20 312.4 429.40 320.8 429.60 313.4 429.80 321.0 430.00 315.9 430.20 314.0 430.65 320.8 431.10 313.0 431.30 319.9 431.50 311.8 431.70 318.3 431.90 303.7 432.10 296.1 432.30 276.6 432.50 260.0 432.70 276.7 432.90 296.2 433.10 303.2 433.30 318.4 433.50 310.1 433.70 321.4 433.80 314.9 434.25 322.6 434.70 316.0 435.15 322.1 435.60 315.6 436.05 322.0 436.50 316.6 436.95 322.3 437.40 317.2 437.85 322.6 438.30 319.0 439.00 331.0 439.70 319.0 440.10 316.3 440.55 321.0 441.00 317.8 441.45 321.0 441.90 315.5 442.35 322.3 442.80 318.7 443.25 322.2 443.70 316.6 444.15 321.0 444.60 316.0 445.05 321.4 445.50 315.9 445.95 322.0 446.40 314.9 446.85 321.6 447.30 316.4 447.75 321.3 448.20 315.4 448.65 322.4 449.10 315.6 449.55 321.6 450.00 316.2 450.45 321.1 450.90 315.8 451.35 320.6 451.80 315.4 452.25 321.9 452.70 314.0 453.15 321.7 453.20 315.0 453.40 322.7 453.60 311.9 453.80 322.0 454.00 309.6 454.20 301.0 454.40 293.6 454.60 301.0 454.80 309.6 455.00 322.7 455.20 313.0 455.40 322.1 455.60 315.6 455.85 321.6 456.30 315.7 456.75 322.0 456.95 323.2 457.15 315.4 457.35 323.4 457.55 316.1 457.75 318.3 457.95 317.0 458.15 315.9 458.35 317.0 458.55 318.2 458.75 313.6 458.95 322.2 459.15 316.0 459.35 322.9 459.45 323.7 459.90 322.7 460.10 313.6 460.30 322.6 460.50 308.0 460.70 307.2 460.90 296.3 461.10 287.0 461.30 296.3 461.50 307.2 461.70 309.5 461.90 323.1 462.10 313.8 462.30 323.6 462.60 315.5 463.05 323.2 463.50 315.8 463.95 323.7 464.40 315.5 464.85 323.2 465.30 315.5 465.75 323.1 466.20 317.1 466.65 322.1 467.10 317.1 467.55 321.9 467.91 323.0 468.11 315.9 468.31 322.7 468.51 317.3 468.71 318.9 468.91 317.7 469.11 316.5 469.31 317.7 469.51 318.9 469.71 315.7 469.91 322.6 470.11 316.3 470.31 324.2 470.70 316.7 471.15 324.7 471.60 317.6 472.05 323.5 472.10 315.7 472.30 324.6 472.50 314.4 472.70 323.9 472.90 313.4 473.10 307.5 473.30 302.4 473.50 307.5 473.70 313.4 473.90 324.2 474.10 314.3 474.30 324.1 474.50 315.4 474.75 324.3 475.20 317.4 475.65 324.5 476.10 316.5 476.55 323.9 477.00 316.7 477.45 323.7 477.90 316.7 478.35 324.5 478.80 314.8 479.25 324.3 479.70 315.0 480.15 323.5 480.60 312.4 481.05 321.7 481.30 319.3 481.50 303.5 481.70 310.7 481.90 283.0 482.10 263.0 482.30 214.4 482.50 172.8 482.70 214.3 482.90 263.0 483.10 284.4 483.30 311.0 483.50 303.5 483.70 321.0 483.75 321.8 484.20 311.5 484.65 323.6 485.10 314.3 485.55 323.7 486.00 315.2 486.45 322.5 486.90 315.2 487.35 322.4 487.60 315.1 487.80 323.4 488.00 312.6 488.20 322.8 488.40 310.4 488.60 302.5 488.80 295.7 489.00 302.3 489.20 310.0 489.40 323.0 489.60 311.1 489.80 323.8 490.00 313.2 490.05 324.4 490.50 312.8 490.95 323.7 491.10 319.1 491.30 304.7 491.50 314.2 491.70 287.8 491.90 269.7 492.10 226.9 492.30 190.3 492.50 226.9 492.70 269.8 492.90 288.0 493.10 313.7 493.30 304.2 493.50 323.6 493.65 325.6 494.10 313.5 494.55 323.6 495.00 314.4 495.45 323.9 495.90 315.2 496.35 322.4 496.80 315.9 497.25 323.5 497.70 315.7 498.15 323.3 498.60 317.2 499.05 323.9 499.50 317.0 499.95 322.2 500.40 315.8 500.85 323.5 501.30 316.0 501.75 324.5 502.20 317.7 502.65 324.6 503.10 317.5 503.55 324.2 504.00 318.5 504.45 325.0 504.90 319.3 505.35 325.4 505.80 317.6 506.25 325.1 506.70 318.9 507.15 324.6 507.60 317.5 508.05 324.2 508.50 316.9 508.95 323.4 509.40 317.1 509.85 325.0 510.30 316.2 510.75 324.3 511.20 315.8 511.40 323.3 511.60 315.0 511.80 323.5 512.00 312.5 512.20 305.5 512.40 299.5 512.60 305.5 512.80 312.5 513.00 323.7 513.20 313.6 513.40 324.1 513.60 315.9 513.90 315.3 514.35 323.9 514.80 316.8 515.25 323.2 515.70 316.2 516.15 324.3 516.60 316.4 517.05 322.7 517.50 316.7 517.95 325.6 518.40 317.4 518.85 321.7 519.30 315.7 519.47 316.3 519.67 323.5 519.87 314.9 520.07 322.9 520.27 318.7 520.47 317.4 520.67 316.1 520.87 317.0 521.07 317.9 521.27 323.9 521.47 314.4 521.67 322.9 521.87 312.8 522.00 324.4 522.20 310.5 522.40 317.9 522.60 300.5 522.80 290.6 523.00 265.2 523.20 243.4 523.40 265.2 523.60 290.7 523.80 300.5 524.00 319.5 524.20 310.3 524.40 323.4 524.70 313.9 525.15 324.6 525.60 316.4 526.05 323.8 526.50 316.5 526.95 322.5 527.40 317.0 527.85 324.6 528.30 316.7 528.75 323.7 529.20 317.6 529.65 323.5 530.10 317.1 530.55 323.6 531.00 317.6 531.45 323.9 531.90 317.2 532.35 323.7 532.80 317.4 533.25 323.6 533.70 318.1" stroke="#f00" stroke-width="2" fill="none" stroke-linejoin="round"/>
<path d="M96.30 314.8 96.75 320.8 97.20 314.9 97.65 322.2 98.10 315.7 98.55 321.4 99.00 314.4 99.45 320.8 99.90 315.1 100.35 320.6 100.80 314.0 101.25 321.3 101.70 313.2 102.15 321.0 102.60 310.7 102.80 319.3 103.00 307.9 103.20 319.6 103.40 307.4 103.60 305.2 103.80 304.2 104.00 304.9 104.20 306.7 104.40 318.5 104.60 306.7 104.80 317.9 105.00 307.9 105.30 308.9 105.75 318.6 106.20 311.6 106.65 319.6 107.10 311.6 107.55 318.8 108.00 313.3 108.45 318.6 108.90 310.6 109.35 318.6 109.40 317.2 109.60 308.2 109.80 317.8 110.00 305.4 110.20 307.9 110.40 306.3 110.60 305.7 110.80 306.8 111.00 308.9 111.20 307.8 111.40 320.2 111.60 311.4 111.80 320.8 112.05 320.6 112.50 313.2 112.95 320.4 113.40 314.3 113.84 322.9 114.04 315.5 114.24 321.9 114.44 313.5 114.64 316.6 114.84 315.3 115.04 314.5 115.24 315.3 115.44 316.7 115.64 313.4 115.84 321.6 116.04 314.4 116.24 322.0 116.55 321.9 117.00 317.0 117.45 323.6 117.90 316.6 118.35 322.7 118.80 316.4 119.25 321.7 119.70 315.9 120.15 322.4 120.60 315.1 121.05 321.6 121.40 315.1 121.60 323.0 121.80 315.6 122.00 321.9 122.20 316.7 122.40 314.3 122.60 312.2 122.80 314.2 123.00 316.6 123.20 324.1 123.40 314.5 123.60 322.1 123.80 315.2 124.20 314.0 124.65 320.1 125.10 313.7 125.55 321.1 125.83 321.8 126.03 316.3 126.23 322.5 126.43 314.0 126.63 316.2 126.83 314.6 127.03 313.6 127.23 314.5 127.43 316.2 127.63 314.3 127.83 323.4 128.03 315.0 128.23 321.5 128.25 321.8 128.70 315.2 129.15 320.8 129.60 315.5 129.90 320.8 130.10 314.0 130.30 322.2 130.50 314.0 130.70 314.8 130.90 310.8 131.10 307.4 131.30 310.8 131.50 314.8 131.70 312.7 131.90 321.8 132.10 315.4 132.30 322.4 132.30 316.5 132.75 322.8 133.20 316.4 133.65 321.5 134.10 315.2 134.55 322.2 135.00 315.7 135.45 322.5 135.90 314.8 136.35 321.1 136.72 322.7 136.92 315.2 137.12 321.2 137.32 314.4 137.52 316.2 137.72 314.5 137.92 313.5 138.12 314.5 138.32 316.1 138.52 313.9 138.72 322.5 138.92 314.0 139.12 322.2 139.50 314.6 139.95 322.8 140.40 314.3 140.42 321.9 140.62 315.1 140.82 322.6 141.02 313.5 141.22 316.1 141.42 314.4 141.62 313.5 141.82 314.4 142.02 316.1 142.22 314.5 142.42 321.8 142.62 315.1 142.82 322.1 143.10 318.0 143.55 324.1 143.73 315.6 143.93 322.8 144.13 315.2 144.33 321.6 144.53 316.7 144.73 315.4 144.93 314.7 145.13 315.5 145.33 316.8 145.53 322.2 145.73 316.0 145.93 321.6 146.13 315.1 146.25 323.5 146.70 316.3 147.15 323.1 147.60 315.9 148.05 321.9 148.50 314.4 148.95 320.9 149.40 315.2 149.85 322.2 150.00 315.2 150.20 321.9 150.40 314.7 150.60 321.5 150.80 315.8 151.00 312.7 151.20 310.0 151.40 312.7 151.60 315.8 151.80 321.4 152.00 314.3 152.20 322.8 152.40 315.2 152.55 323.6 153.00 316.7 153.45 322.7 153.90 318.6 154.35 325.0 154.80 317.7 155.25 322.3 155.70 318.0 156.15 323.1 156.60 317.1 157.05 322.6 157.50 316.6 157.95 322.6 158.40 316.9 158.85 322.6 159.30 314.6 159.75 321.4 159.76 321.4 159.96 315.5 160.16 322.6 160.36 313.8 160.56 316.4 160.76 314.9 160.96 314.0 161.16 314.9 161.36 316.4 161.56 313.9 161.76 322.2 161.96 315.3 162.16 322.2 162.45 321.7 162.60 322.3 162.80 315.2 163.00 322.0 163.20 314.6 163.40 316.4 163.60 314.0 163.80 311.9 164.00 314.0 164.20 316.5 164.40 313.4 164.60 321.8 164.80 315.1 165.00 322.1 165.15 321.2 165.60 315.7 166.05 321.2 166.50 314.6 166.95 321.3 167.40 316.0 167.85 321.6 168.30 316.2 168.75 322.2 169.20 316.2 169.65 322.1 170.10 316.2 170.55 323.2 171.00 316.6 171.45 322.8 171.88 314.6 172.08 322.3 172.28 315.0 172.48 322.4 172.68 316.8 172.88 315.4 173.08 314.6 173.28 315.4 173.48 316.8 173.68 322.4 173.88 315.2 174.08 323.2 174.28 315.6 174.60 317.8 175.05 324.5 175.50 319.1 175.95 325.0 176.40 318.5 176.85 325.3 177.30 318.7 177.75 323.6 178.20 317.0 178.65 324.1 179.10 318.0 179.55 323.7 179.70 316.0 179.90 323.1 180.10 314.8 180.30 321.7 180.50 315.7 180.70 312.6 180.90 310.0 181.10 312.6 181.30 315.7 181.50 322.1 181.70 315.0 181.90 322.1 182.10 315.7 182.25 322.6 182.70 315.3 183.15 321.9 183.60 316.4 184.05 322.9 184.50 315.1 184.95 322.5 185.40 314.3 185.85 323.1 186.30 313.4 186.40 322.4 186.60 311.5 186.80 319.3 187.00 304.8 187.20 300.7 187.40 284.9 187.60 271.4 187.80 284.9 188.00 300.7 188.20 305.2 188.40 319.7 188.60 311.3 188.80 322.3 189.00 313.9 189.45 321.8 189.90 314.5 190.35 321.8 190.80 315.4 191.25 321.4 191.70 314.8 192.15 321.6 192.60 314.2 193.05 320.9 193.50 314.1 193.95 320.7 194.40 315.1 194.85 319.7 195.30 314.6 195.75 320.4 195.80 314.1 196.00 321.6 196.20 313.8 196.40 322.0 196.60 314.7 196.80 310.9 197.00 307.6 197.20 310.9 197.40 314.7 197.60 322.4 197.80 314.2 198.00 322.0 198.20 314.6 198.45 321.5 198.90 313.9 199.20 321.5 199.40 315.6 199.60 322.1 199.80 313.3 200.00 314.7 200.20 310.9 200.40 307.6 200.60 310.8 200.80 314.6 201.00 313.0 201.20 322.4 201.40 314.6 201.60 322.7 201.60 313.2 202.05 321.3 202.37 315.0 202.57 323.3 202.77 314.1 202.97 321.9 203.17 316.2 203.37 314.8 203.57 313.9 203.77 314.8 203.97 316.2 204.17 322.0 204.37 314.3 204.57 321.3 204.77 315.3 205.20 316.2 205.65 322.4 206.10 314.4 206.55 322.8 207.00 313.5 207.20 322.1 207.40 310.8 207.60 321.4 207.80 306.5 208.00 295.9 208.20 286.8 208.40 295.8 208.60 306.4 208.80 320.2 209.00 310.9 209.20 321.7 209.40 313.5 209.70 315.3 210.15 323.6 210.60 314.6 211.05 322.3 211.30 322.1 211.50 310.4 211.70 319.9 211.90 303.9 212.10 299.2 212.30 282.5 212.50 268.2 212.70 282.5 212.90 299.2 213.10 303.3 213.30 323.1 213.50 310.8 213.70 322.6 213.75 323.4 214.20 314.9 214.65 322.7 215.10 316.8 215.55 322.9 216.00 315.9 216.45 324.2 216.90 316.3 217.10 312.5 217.30 322.4 217.50 309.6 217.70 319.6 217.90 303.8 218.10 291.1 218.30 280.3 218.50 290.8 218.70 303.0 218.70 312.3 218.90 304.8 218.90 318.8 219.10 320.5 219.10 307.7 219.30 307.7 219.30 319.8 219.50 306.0 219.50 309.6 219.70 304.5 219.90 300.0 220.10 305.1 220.30 310.8 220.40 309.0 220.50 309.4 220.60 321.4 220.70 321.6 220.80 311.0 220.90 311.6 221.00 322.0 221.10 322.3 221.20 313.3 221.40 309.9 221.60 307.0 221.80 310.2 222.00 314.0 222.20 321.6 222.40 312.4 222.60 321.4 222.80 314.1 223.20 314.6 223.65 323.0 224.10 321.7 224.30 312.8 224.50 322.3 224.70 310.3 224.90 309.5 225.10 302.0 225.30 295.5 225.50 301.8 225.70 309.2 225.90 309.4 226.10 322.0 226.30 312.3 226.50 322.6 226.80 313.0 227.25 323.0 227.50 308.2 227.70 317.2 227.90 301.2 228.10 303.7 228.30 277.7 228.50 242.9 228.70 213.2 228.90 243.0 229.10 277.9 229.30 304.5 229.50 301.3 229.70 319.9 229.90 310.0 229.95 319.4 230.40 312.0 230.85 321.1 231.30 312.2 231.75 319.9 232.20 313.3 232.65 320.0 233.10 314.3 233.55 321.5 234.00 314.4 234.45 320.7 234.90 314.1 235.35 322.0 235.80 314.3 236.25 322.7 236.70 316.8 237.15 323.1 237.60 316.4 238.05 321.6 238.50 314.9 238.95 320.3 239.40 314.2 239.85 321.0 240.30 314.3 240.75 320.2 241.20 313.2 241.60 320.7 241.80 313.8 242.00 320.8 242.20 310.9 242.40 310.8 242.60 303.9 242.80 298.0 243.00 303.9 243.20 310.7 243.40 311.1 243.60 321.8 243.80 313.2 244.00 322.1 244.35 322.2 244.80 314.8 245.25 321.7 245.70 315.1 246.15 321.9 246.21 314.6 246.41 321.2 246.61 313.8 246.81 321.6 247.01 315.3 247.21 313.9 247.41 313.0 247.61 313.8 247.81 315.3 248.01 321.3 248.21 313.9 248.41 320.8 248.61 313.8 248.85 320.3 249.30 313.5 249.75 320.9 250.20 314.2 250.65 320.2 251.10 314.3 251.55 321.1 252.00 314.8 252.14 319.6 252.34 312.6 252.54 320.6 252.74 312.0 252.94 314.2 253.14 312.8 253.34 312.0 253.54 312.7 253.74 314.0 253.94 311.8 254.14 320.1 254.34 313.2 254.54 319.5 254.70 314.2 255.15 320.7 255.35 320.5 255.55 312.7 255.75 319.8 255.95 309.9 256.15 312.2 256.35 310.2 256.55 309.1 256.75 310.2 256.95 312.3 257.15 310.8 257.35 320.2 257.55 311.9 257.75 320.7 257.85 319.1 258.30 313.5 258.75 319.3 259.20 313.1 259.65 319.1 260.10 313.0 260.55 319.0 261.00 312.2 261.45 318.9 261.90 312.5 262.35 318.6 262.80 312.2 263.25 319.2 263.70 313.6 264.13 312.8 264.33 319.3 264.53 310.9 264.73 319.2 264.93 311.8 265.13 309.6 265.33 308.3 265.53 309.6 265.73 311.8 265.93 320.2 266.13 311.2 266.33 320.3 266.53 313.0 266.85 321.0 267.30 314.7 267.75 321.6 268.20 315.6 268.65 320.6 269.10 315.2 269.55 320.8 269.93 313.7 270.13 319.8 270.33 312.9 270.53 319.7 270.73 313.1 270.93 311.4 271.13 310.5 271.33 311.4 271.53 313.0 271.73 320.0 271.93 312.6 272.13 319.9 272.33 312.7 272.70 314.2 273.15 320.0 273.60 312.3 274.05 318.5 274.08 319.4 274.28 312.2 274.48 318.9 274.68 309.9 274.88 311.5 275.08 309.2 275.28 308.0 275.48 309.2 275.68 311.5 275.88 310.1 276.08 319.8 276.28 311.8 276.48 318.8 276.75 320.6 277.10 312.0 277.30 320.2 277.50 311.6 277.70 320.1 277.90 312.4 278.10 308.7 278.30 305.6 278.50 308.8 278.70 312.5 278.90 319.8 279.10 312.4 279.30 318.9 279.50 313.4 279.90 315.2 280.35 322.5 280.80 315.7 280.93 312.5 281.13 318.9 281.33 311.8 281.53 319.2 281.73 313.5 281.93 312.1 282.13 311.3 282.33 312.1 282.53 313.6 282.73 318.9 282.93 313.6 283.13 320.0 283.33 312.7 283.50 314.8 283.95 322.0 284.40 314.4 284.85 321.2 285.30 314.7 285.75 320.9 286.20 314.5 286.65 321.2 287.10 316.2 287.55 321.2 287.93 312.0 288.13 318.4 288.33 312.1 288.53 319.8 288.73 312.7 288.93 310.9 289.13 309.9 289.33 310.9 289.53 312.6 289.73 320.0 289.93 310.9 290.13 318.4 290.33 313.2 290.70 312.8 291.15 318.4 291.30 319.7 291.50 313.5 291.70 319.5 291.90 311.0 292.10 311.6 292.30 307.2 292.50 303.5 292.70 307.3 292.90 311.7 293.10 310.3 293.30 319.5 293.50 312.8 293.70 319.4 293.85 318.3 294.30 311.5 294.75 317.4 295.20 312.3 295.65 318.8 296.10 312.0 296.55 318.6 297.00 312.2 297.45 318.5 297.90 311.7 298.35 318.9 298.62 312.5 298.82 319.3 299.02 311.3 299.22 319.8 299.42 311.7 299.62 309.6 299.82 308.4 300.02 309.5 300.22 311.6 300.42 319.1 300.62 311.5 300.82 319.0 301.02 312.4 301.05 320.6 301.50 313.7 301.95 320.1 302.18 318.4 302.38 312.1 302.58 320.1 302.78 311.4 302.98 312.7 303.18 311.2 303.38 310.3 303.58 311.1 303.78 312.6 303.98 310.6 304.18 318.4 304.38 312.3 304.58 318.9 304.65 321.7 304.70 313.2 304.90 319.0 305.10 311.4 305.30 317.9 305.50 312.5 305.70 309.6 305.90 307.0 306.10 309.5 306.30 312.5 306.50 319.1 306.70 311.7 306.90 318.8 307.10 312.8 307.35 318.6 307.60 318.9 307.80 311.2 308.00 318.6 308.20 309.8 308.40 309.4 308.60 303.8 308.80 299.0 309.00 303.8 309.20 309.4 309.40 308.9 309.60 319.1 309.80 311.2 310.00 318.9 310.05 317.5 310.50 310.8 310.60 312.2 310.80 318.4 311.00 311.0 311.20 318.4 311.40 311.2 311.60 307.3 311.80 304.0 312.00 307.4 312.20 311.3 312.40 319.6 312.60 311.2 312.80 317.9 313.00 311.8 313.20 311.6 313.65 317.2 314.10 312.0 314.55 316.7 315.00 313.1 315.45 318.9 315.90 312.9 316.35 319.3 316.80 315.0 317.25 319.5 317.64 311.7 317.84 318.2 318.04 311.0 318.24 318.3 318.44 311.9 318.64 310.2 318.84 309.3 319.04 310.2 319.24 311.8 319.44 316.7 319.64 310.6 319.84 318.1 320.04 311.8 320.40 314.4 320.85 320.6 321.30 314.4 321.60 317.4 321.80 308.9 322.00 317.7 322.20 304.0 322.40 299.7 322.60 286.2 322.80 274.6 323.00 286.1 323.20 299.6 323.40 303.8 323.60 315.0 323.80 308.8 324.00 317.6 324.00 311.8 324.38 311.1 324.58 318.4 324.78 310.5 324.98 317.3 325.18 311.9 325.38 310.7 325.58 310.1 325.78 310.8 325.98 312.1 326.18 318.1 326.38 310.7 326.58 318.7 326.78 311.8 327.15 318.3 327.46 317.7 327.66 310.9 327.86 317.8 328.06 309.5 328.26 309.7 328.46 307.3 328.66 306.0 328.86 307.3 329.06 309.7 329.26 309.0 329.46 318.1 329.66 311.6 329.86 318.9 330.30 311.6 330.75 318.2 331.20 311.9 331.65 318.3 331.70 309.5 331.90 318.4 332.10 307.8 332.30 311.7 332.50 300.9 332.70 288.3 332.90 277.6 333.10 288.4 333.30 300.9 333.50 317.0 333.70 307.1 333.90 318.3 334.10 310.4 334.35 318.3 334.80 312.4 335.25 318.7 335.70 312.7 336.15 318.8 336.60 314.2 337.05 318.4 337.50 311.5 337.60 318.1 337.80 311.3 338.00 319.0 338.20 308.5 338.40 308.2 338.60 301.8 338.80 296.4 339.00 301.7 339.20 308.0 339.40 309.0 339.60 317.7 339.80 309.9 339.80 311.6 340.00 318.4 340.00 319.0 340.20 309.0 340.40 317.2 340.60 309.3 340.80 304.3 341.00 300.0 341.20 304.4 341.40 309.6 341.60 318.3 341.80 310.2 342.00 318.5 342.20 312.0 342.45 318.3 342.90 312.4 343.35 318.3 343.70 318.5 343.90 311.0 344.10 318.8 344.30 308.9 344.50 308.5 344.70 302.3 344.90 297.0 345.10 302.3 345.30 308.6 345.50 309.1 345.70 317.8 345.90 311.6 346.10 317.7 346.50 312.1 346.95 316.9 347.40 311.5 347.85 317.6 348.30 311.6 348.50 312.6 348.70 318.4 348.90 311.5 349.10 318.8 349.30 312.0 349.50 308.5 349.70 305.6 349.90 308.5 350.10 312.0 350.30 318.7 350.50 311.5 350.70 317.5 350.90 312.3 351.00 311.2 351.45 317.6 351.90 311.5 352.35 317.5 352.80 313.8 353.25 318.3 353.70 314.4 354.15 318.6 354.60 313.4 355.05 318.1 355.50 313.8 355.95 320.0 356.40 313.3 356.85 318.6 357.30 313.0 357.75 318.5 358.20 313.7 358.65 319.1 359.10 312.3 359.17 312.4 359.37 317.9 359.57 312.0 359.77 317.7 359.97 312.7 360.17 311.3 360.37 310.5 360.57 311.3 360.77 312.7 360.97 319.1 361.17 312.0 361.37 317.3 361.57 312.7 361.80 312.7 362.25 318.7 362.70 313.3 363.15 320.1 363.47 312.2 363.67 317.5 363.87 311.0 364.07 318.3 364.27 311.1 364.47 309.1 364.67 308.0 364.87 309.1 365.07 311.1 365.27 315.8 365.47 310.4 365.67 318.7 365.87 311.0 366.30 313.1 366.75 317.8 367.20 313.6 367.65 317.6 368.10 312.1 368.55 318.9 368.74 312.0 368.94 317.8 369.14 311.2 369.34 318.3 369.54 311.5 369.74 309.5 369.94 308.5 370.14 309.5 370.34 311.4 370.54 318.6 370.74 310.8 370.94 318.2 371.14 312.1 371.25 318.7 371.70 314.5 372.15 319.5 372.60 313.9 373.05 319.2 373.11 317.4 373.31 312.5 373.51 317.4 373.71 309.6 373.91 310.7 374.11 308.5 374.31 307.3 374.51 308.5 374.71 310.7 374.91 310.0 375.11 317.9 375.31 310.1 375.51 318.7 375.75 318.6 376.20 312.4 376.30 318.8 376.50 312.5 376.70 317.7 376.90 310.8 377.10 311.1 377.30 306.9 377.50 303.4 377.70 307.0 377.90 311.2 378.10 311.0 378.30 318.1 378.50 312.6 378.70 318.4 378.90 312.9 379.35 319.2 379.80 313.2 380.25 318.0 380.70 314.7 381.15 319.3 381.60 315.0 382.05 319.3 382.50 314.1 382.95 318.7 383.40 314.3 383.85 317.9 384.30 314.5 384.75 317.8 385.20 313.1 385.65 317.3 386.10 312.5 386.55 317.9 387.00 312.0 387.45 317.3 387.90 312.0 388.35 317.3 388.80 311.5 389.25 318.5 389.70 311.4 390.10 312.1 390.30 318.2 390.50 309.7 390.70 315.0 390.90 305.1 391.10 295.8 391.30 287.8 391.50 295.7 391.70 305.0 391.90 317.8 392.10 309.2 392.30 318.6 392.50 311.3 392.85 318.0 392.99 317.3 393.19 311.8 393.39 318.2 393.59 310.8 393.79 312.5 393.99 311.2 394.19 310.5 394.39 311.3 394.59 312.6 394.79 310.6 394.99 318.5 395.19 312.0 395.39 318.4 395.55 318.1 396.00 312.0 396.45 318.0 396.60 318.7 396.80 311.7 397.00 318.2 397.20 311.7 397.40 312.0 397.60 308.8 397.80 306.0 398.00 308.7 398.20 311.8 398.40 310.1 398.60 318.7 398.80 311.4 399.00 318.5 399.15 321.3 399.32 310.9 399.52 318.9 399.72 311.5 399.92 319.4 400.12 310.8 400.32 308.8 400.52 307.7 400.72 308.5 400.92 310.1 401.12 316.8 401.32 308.6 401.52 315.8 401.72 309.0 401.85 320.2 402.10 306.5 402.30 313.8 402.50 300.5 402.70 301.4 402.90 279.1 403.10 248.0 403.30 221.5 403.50 248.1 403.70 279.2 403.90 302.2 404.10 300.6 404.30 312.4 404.50 306.2 404.55 317.0 405.00 311.0 405.45 318.7 405.90 311.7 406.35 318.0 406.80 311.4 407.25 319.0 407.70 312.7 408.15 318.4 408.30 316.1 409.00 325.0 409.70 316.1 409.87 309.3 410.07 311.3 410.27 310.5 410.47 317.9 410.67 311.4 410.87 318.6 411.30 312.2 411.75 317.2 412.20 312.7 412.41 312.0 412.61 318.1 412.81 310.4 413.01 318.1 413.21 311.1 413.41 309.0 413.61 307.9 413.81 309.0 414.01 311.0 414.21 319.0 414.41 311.2 414.61 319.2 414.81 311.1 414.90 311.4 415.35 318.7 415.78 311.0 415.98 318.2 416.18 310.6 416.38 319.5 416.58 310.4 416.78 308.0 416.98 306.7 417.18 308.0 417.38 310.4 417.58 316.4 417.78 310.6 417.98 318.9 418.18 311.2 418.50 312.3 418.95 318.2 419.18 317.0 419.38 312.3 419.58 318.7 419.78 311.5 419.98 312.9 420.18 311.6 420.38 310.9 420.58 311.7 420.78 313.0 420.98 311.1 421.18 317.8 421.38 312.5 421.58 318.4 421.65 317.9 422.10 312.4 422.55 318.1 423.00 312.2 423.45 318.1 423.90 312.9 424.35 317.0 424.80 312.6 425.25 318.4 425.70 313.2 426.15 318.1 426.60 312.3 427.05 317.6 427.50 312.8 427.60 318.8 427.80 312.7 428.00 318.2 428.20 312.6 428.40 312.5 428.60 309.4 428.80 306.7 429.00 309.3 429.20 312.3 429.40 311.7 429.60 318.4 429.80 311.4 430.00 317.5 430.20 312.1 430.65 317.8 431.10 311.3 431.30 310.1 431.50 319.4 431.70 305.3 431.90 310.8 432.10 294.0 432.30 275.1 432.50 259.0 432.70 275.1 432.90 294.0 433.10 312.0 433.30 305.7 433.50 317.3 433.70 309.4 433.80 309.9 434.25 317.8 434.70 312.1 435.15 317.7 435.60 312.1 436.05 317.3 436.17 318.4 436.37 312.6 436.57 319.0 436.77 311.3 436.97 312.4 437.17 310.8 437.37 310.0 437.57 310.8 437.77 312.5 437.97 311.8 438.17 318.4 438.37 312.7 438.57 318.4 438.75 319.4 439.20 313.1 439.65 318.1 440.10 312.3 440.55 318.8 441.00 312.9 441.45 318.8 441.80 319.1 442.00 312.9 442.20 319.4 442.40 311.6 442.60 311.4 442.80 307.2 443.00 303.5 443.20 307.2 443.40 311.5 443.60 311.1 443.80 320.3 444.00 312.7 444.20 319.1 444.60 311.6 445.05 317.3 445.50 312.9 445.95 318.2 446.40 312.0 446.72 318.5 446.92 312.2 447.12 318.3 447.32 310.9 447.52 312.7 447.72 311.1 447.92 310.2 448.12 311.1 448.32 312.7 448.52 310.8 448.72 319.3 448.92 313.0 449.12 319.1 449.55 318.4 450.00 312.6 450.34 319.5 450.54 312.6 450.74 319.2 450.94 310.3 451.14 312.3 451.34 310.5 451.54 309.6 451.74 310.5 451.94 312.3 452.14 310.7 452.34 319.3 452.54 312.7 452.74 318.9 453.15 317.1 453.20 312.8 453.40 319.2 453.60 312.0 453.80 319.2 454.00 311.9 454.20 307.9 454.40 304.5 454.60 307.9 454.80 311.9 455.00 319.8 455.20 310.9 455.40 319.9 455.60 311.8 455.85 317.2 456.25 319.9 456.45 313.4 456.65 319.3 456.85 310.8 457.05 313.5 457.25 312.1 457.45 311.4 457.65 312.2 457.85 313.5 458.05 311.1 458.25 318.6 458.45 312.2 458.65 319.8 459.00 314.2 459.45 321.0 459.90 319.5 460.10 311.1 460.30 320.0 460.50 308.9 460.70 309.9 460.90 304.0 461.10 299.0 461.30 304.0 461.50 309.8 461.70 309.5 461.90 319.7 462.10 310.7 462.30 320.2 462.53 320.1 462.73 311.7 462.93 319.8 463.13 309.4 463.33 311.1 463.53 308.8 463.73 307.6 463.93 308.9 464.13 311.2 464.33 308.8 464.53 320.3 464.73 311.4 464.93 319.3 465.30 313.3 465.75 321.0 465.78 319.4 465.98 312.2 466.18 319.0 466.38 309.4 466.58 312.1 466.78 310.1 466.98 309.0 467.18 310.1 467.38 312.2 467.58 310.4 467.78 320.1 467.98 312.8 468.18 319.9 468.45 319.4 468.90 313.6 469.02 320.4 469.22 311.1 469.42 320.1 469.62 310.9 469.82 312.9 470.02 311.1 470.22 310.1 470.42 311.1 470.62 312.9 470.82 310.6 471.02 320.1 471.22 312.3 471.42 320.1 471.60 310.2 472.05 317.4 472.10 312.8 472.30 320.1 472.50 312.5 472.70 320.7 472.90 314.1 473.10 311.3 473.30 309.0 473.50 311.4 473.70 314.2 473.90 320.9 474.10 313.0 474.30 320.4 474.50 313.1 474.75 319.6 475.20 312.6 475.65 319.6 476.10 313.1 476.55 321.6 477.00 314.3 477.45 321.2 477.90 313.2 478.35 321.4 478.80 314.1 479.25 320.8 479.70 313.0 480.15 319.3 480.60 310.9 481.05 320.1 481.30 320.4 481.50 307.0 481.70 317.6 481.90 298.5 482.10 290.4 482.30 267.2 482.50 247.5 482.70 267.2 482.90 290.3 483.10 299.5 483.30 315.0 483.50 307.7 483.70 320.6 483.75 319.6 484.20 311.0 484.65 320.0 485.10 311.1 485.20 311.7 485.40 321.1 485.60 309.2 485.80 319.7 486.00 305.9 486.20 296.5 486.40 288.4 486.60 296.5 486.80 305.9 486.90 317.6 487.60 328.0 488.30 317.6 488.40 312.7 488.60 309.4 488.80 306.6 489.00 309.5 489.20 312.8 489.40 310.2 489.60 320.8 489.80 310.9 490.00 320.0 490.05 320.9 490.50 311.6 490.95 321.1 491.10 309.8 491.30 321.4 491.50 305.2 491.70 312.4 491.90 292.9 492.10 272.1 492.30 254.3 492.50 272.1 492.70 293.0 492.90 310.4 493.10 304.6 493.30 318.4 493.50 309.5 493.65 319.3 494.10 311.4 494.55 319.6 495.00 312.0 495.45 319.9 495.90 312.8 496.17 312.2 496.37 320.7 496.57 312.9 496.77 321.1 496.97 314.3 497.17 312.9 497.37 312.2 497.57 312.9 497.77 314.3 497.97 321.1 498.17 312.0 498.37 321.5 498.57 313.4 498.60 313.9 499.05 322.4 499.50 315.2 499.95 322.5 500.40 316.1 500.85 322.0 501.30 313.8 501.75 321.9 501.78 322.0 501.98 312.8 502.18 321.1 502.38 310.7 502.58 312.7 502.78 310.6 502.98 309.5 503.18 310.6 503.38 312.8 503.58 310.9 503.78 320.5 503.98 313.2 504.18 321.0 504.45 320.6 504.90 313.6 505.35 319.9 505.80 313.8 506.25 321.8 506.70 314.8 507.15 323.3 507.60 314.6 507.71 312.9 507.91 320.5 508.11 311.9 508.31 320.5 508.51 312.8 508.71 310.7 508.91 309.6 509.11 310.7 509.31 312.8 509.51 321.3 509.71 311.5 509.91 321.4 510.11 312.4 510.30 312.1 510.75 320.8 511.20 321.0 511.40 312.3 511.60 321.6 511.80 311.6 512.00 313.1 512.20 309.3 512.40 306.0 512.60 309.3 512.80 313.2 513.00 311.8 513.20 320.7 513.40 313.7 513.60 321.3 513.90 310.7 514.35 319.1 514.80 313.2 515.25 321.4 515.66 313.1 515.86 320.3 516.06 312.9 516.26 322.1 516.46 314.5 516.66 313.2 516.86 312.4 517.06 313.1 517.26 314.4 517.46 321.0 517.66 312.7 517.86 320.4 518.06 312.2 518.40 313.6 518.85 323.0 518.98 312.2 519.18 320.8 519.38 312.0 519.58 321.7 519.78 312.8 519.98 310.8 520.18 309.7 520.38 310.7 520.58 312.7 520.78 320.4 520.98 311.1 521.18 321.4 521.38 311.6 521.55 321.8 522.00 311.7 522.20 321.0 522.40 309.9 522.60 320.0 522.80 305.3 523.00 294.9 523.20 286.0 523.40 294.9 523.60 305.4 523.80 319.1 524.00 309.6 524.20 320.3 524.40 311.3 524.70 312.6 525.15 321.2 525.60 312.9 526.05 320.0 526.50 314.4 526.88 312.0 527.08 320.0 527.28 311.3 527.48 321.0 527.68 312.0 527.88 309.6 528.08 308.3 528.28 309.6 528.48 312.0 528.68 321.3 528.88 311.2 529.08 321.8 529.28 312.0 529.65 321.7 530.10 315.6 530.55 322.6 530.77 320.4 530.97 312.7 531.17 321.0 531.37 312.3 531.57 314.5 531.77 313.1 531.97 312.4 532.17 313.1 532.37 314.5 532.57 311.5 532.77 321.1 532.97 313.5 533.17 320.9 533.25 322.6 533.70 314.5" stroke="#00f" stroke-width="2" fill="none" stroke-linejoin="round"/>
<rect x="95" y="15" width="440" height="330" fill="none" stroke="#000" stroke-width="2.2"/>
<path d="M119.4 345V341.8 M143.9 345V338.5 M168.3 345V341.8 M192.8 345V338.5 M217.2 345V341.8 M241.7 345V338.5 M266.1 345V341.8 M290.6 345V338.5 M315.0 345V341.8 M339.4 345V338.5 M363.9 345V341.8 M388.3 345V338.5 M412.8 345V341.8 M437.2 345V338.5 M461.7 345V341.8 M486.1 345V338.5 M510.6 345V341.8 M95 321.5H101.5 M95 290.9H98.2 M95 260.2H101.5 M95 229.6H98.2 M95 198.9H101.5 M95 168.2H98.2 M95 137.6H101.5 M95 107.0H98.2 M95 76.3H101.5 M95 45.7H98.2 M95 15.0H101.5" stroke="#000" stroke-width="2.2" fill="none"/>
<g font-family="Liberation Serif, serif" font-weight="bold" font-size="18"><text x="95.0" y="365.6" text-anchor="middle">300</text><text x="143.9" y="365.6" text-anchor="middle">350</text><text x="192.8" y="365.6" text-anchor="middle">400</text><text x="241.7" y="365.6" text-anchor="middle">450</text><text x="290.6" y="365.6" text-anchor="middle">500</text><text x="339.4" y="365.6" text-anchor="middle">550</text><text x="388.3" y="365.6" text-anchor="middle">600</text><text x="437.2" y="365.6" text-anchor="middle">650</text><text x="486.1" y="365.6" text-anchor="middle">700</text><text x="535.0" y="365.6" text-anchor="middle">750</text></g>
<g font-family="Liberation Serif, serif" font-weight="bold" font-size="17.5"><text x="88.6" y="326.8" text-anchor="end">0</text><text x="88.6" y="267.1" text-anchor="end">1×10<tspan font-size="11" dy="-8">4</tspan></text><text x="88.6" y="205.8" text-anchor="end">2×10<tspan font-size="11" dy="-8">4</tspan></text><text x="88.6" y="144.5" text-anchor="end">3×10<tspan font-size="11" dy="-8">4</tspan></text><text x="88.6" y="83.2" text-anchor="end">4×10<tspan font-size="11" dy="-8">4</tspan></text><text x="88.6" y="21.9" text-anchor="end">5×10<tspan font-size="11" dy="-8">4</tspan></text></g>
<text x="315" y="400.3" text-anchor="middle" font-family="Liberation Serif, serif" font-weight="bold" font-size="24.6">Wavelength (nm)</text>
<text transform="translate(23.4 179.8) rotate(-90)" text-anchor="middle" font-family="Liberation Serif, serif" font-weight="bold" font-size="24.5">Intensity (a.u.)</text>
<path d="M109 32.4H155" stroke="#000" stroke-width="2.3"/>
<text x="159.4" y="38.8" font-family="Liberation Serif, serif" font-size="19">2:1</text>
<path d="M109 56.7H155" stroke="#f00" stroke-width="2.3"/>
<text x="159.4" y="63.1" font-family="Liberation Serif, serif" font-size="19">4:1</text>
<path d="M109 81.5H155" stroke="#00f" stroke-width="2.3"/>
<text x="159.4" y="87.9" font-family="Liberation Serif, serif" font-size="19">8:1</text>
<g><text transform="translate(122.6 300.3) scale(0.95 1)" fill="#1eaae6" stroke="#1eaae6" stroke-width="0.4" font-family="Liberation Serif, serif" font-style="italic" font-size="12.5">Ar</text><text x="136.5" y="303.0" fill="#1eaae6" stroke="#1eaae6" stroke-width="0.25" font-family="Liberation Sans, sans-serif" font-size="10.3" letter-spacing="0.4">II</text><text transform="translate(145.2 299.7) scale(0.84 1) skewX(-8)" fill="#999999" font-family="Liberation Serif, serif" font-weight="bold" font-style="italic" font-size="13">O</text><text x="155.2" y="302.1" fill="#a8a8a8" stroke="#a8a8a8" stroke-width="0.25" font-family="Liberation Sans, sans-serif" font-size="9.3" letter-spacing="0.4">II</text><text transform="translate(165.6 303.0) scale(0.95 1)" fill="#1eaae6" stroke="#1eaae6" stroke-width="0.4" font-family="Liberation Serif, serif" font-style="italic" font-size="12.5">Ar</text><text x="179.5" y="305.7" fill="#1eaae6" stroke="#1eaae6" stroke-width="0.25" font-family="Liberation Sans, sans-serif" font-size="10.3" letter-spacing="0.4">II</text><text transform="translate(178.9 251.9) scale(0.84 1) skewX(-8)" fill="#999999" font-family="Liberation Serif, serif" font-weight="bold" font-style="italic" font-size="13">O</text><text x="188.9" y="254.3" fill="#a8a8a8" stroke="#a8a8a8" stroke-width="0.25" font-family="Liberation Sans, sans-serif" font-size="9.3" letter-spacing="0.4">II</text><text transform="translate(188.7 283.3) scale(0.95 1)" fill="#1eaae6" stroke="#1eaae6" stroke-width="0.4" font-family="Liberation Serif, serif" font-style="italic" font-size="12.5">Ar</text><text x="204.2" y="286.0" fill="#1eaae6" stroke="#1eaae6" stroke-width="0.25" font-family="Liberation Sans, sans-serif" font-size="10.3">I</text><text transform="translate(207.0 92.6) scale(0.84 1) skewX(-8)" fill="#999999" font-family="Liberation Serif, serif" font-weight="bold" font-style="italic" font-size="13">O</text><text x="217.0" y="95.0" fill="#a8a8a8" stroke="#a8a8a8" stroke-width="0.25" font-family="Liberation Sans, sans-serif" font-size="9.3" letter-spacing="0.4">II</text><text transform="translate(203.0 128.5) scale(0.95 1)" fill="#1eaae6" stroke="#1eaae6" stroke-width="0.4" font-family="Liberation Serif, serif" font-style="italic" font-size="12.5">Ar</text><text x="216.9" y="131.2" fill="#1eaae6" stroke="#1eaae6" stroke-width="0.25" font-family="Liberation Sans, sans-serif" font-size="10.3" letter-spacing="0.4">II</text><text transform="translate(211.0 180.1) scale(0.95 1)" fill="#1eaae6" stroke="#1eaae6" stroke-width="0.4" font-family="Liberation Serif, serif" font-style="italic" font-size="12.5">Ar</text><text x="224.9" y="182.8" fill="#1eaae6" stroke="#1eaae6" stroke-width="0.25" font-family="Liberation Sans, sans-serif" font-size="10.3" letter-spacing="0.4">II</text><text transform="translate(224.9 203.4) scale(0.84 1) skewX(-8)" fill="#999999" font-family="Liberation Serif, serif" font-weight="bold" font-style="italic" font-size="13">O</text><text x="234.9" y="205.8" fill="#a8a8a8" stroke="#a8a8a8" stroke-width="0.25" font-family="Liberation Sans, sans-serif" font-size="9.3" letter-spacing="0.4">II</text><text transform="translate(236.3 242.6) scale(0.95 1)" fill="#1eaae6" stroke="#1eaae6" stroke-width="0.4" font-family="Liberation Serif, serif" font-style="italic" font-size="12.5">Ar</text><text x="251.8" y="245.3" fill="#1eaae6" stroke="#1eaae6" stroke-width="0.25" font-family="Liberation Sans, sans-serif" font-size="10.3">I</text><text transform="translate(298.5 271.5) scale(0.84 1) skewX(-8)" fill="#999999" font-family="Liberation Serif, serif" font-weight="bold" font-style="italic" font-size="13">O</text><text x="308.5" y="273.9" fill="#a8a8a8" stroke="#a8a8a8" stroke-width="0.25" font-family="Liberation Sans, sans-serif" font-size="9.3" letter-spacing="0.4">II</text><text transform="translate(325.8 249.0) scale(0.84 1) skewX(-8)" fill="#999999" font-family="Liberation Serif, serif" font-weight="bold" font-style="italic" font-size="13">O</text><text x="337.3" y="251.4" fill="#a8a8a8" stroke="#a8a8a8" stroke-width="0.25" font-family="Liberation Sans, sans-serif" font-size="9.3">I</text><text transform="translate(346.6 280.4) scale(0.95 1)" fill="#1eaae6" stroke="#1eaae6" stroke-width="0.4" font-family="Liberation Serif, serif" font-style="italic" font-size="12.5">Ar</text><text x="362.1" y="283.1" fill="#1eaae6" stroke="#1eaae6" stroke-width="0.25" font-family="Liberation Sans, sans-serif" font-size="10.3">I</text><text transform="translate(383.9 195.8) scale(0.84 1) skewX(-8)" fill="#999999" font-family="Liberation Serif, serif" font-weight="bold" font-style="italic" font-size="13">O</text><text x="395.4" y="198.2" fill="#a8a8a8" stroke="#a8a8a8" stroke-width="0.25" font-family="Liberation Sans, sans-serif" font-size="9.3">I</text><text transform="translate(421.0 283.8) scale(0.95 1)" fill="#1eaae6" stroke="#1eaae6" stroke-width="0.4" font-family="Liberation Serif, serif" font-style="italic" font-size="12.5">Ar</text><text x="436.5" y="286.5" fill="#1eaae6" stroke="#1eaae6" stroke-width="0.25" font-family="Liberation Sans, sans-serif" font-size="10.3">I</text><text transform="translate(443.0 279.3) scale(0.84 1) skewX(-8)" fill="#999999" font-family="Liberation Serif, serif" font-weight="bold" font-style="italic" font-size="13">O</text><text x="453.0" y="281.7" fill="#a8a8a8" stroke="#a8a8a8" stroke-width="0.25" font-family="Liberation Sans, sans-serif" font-size="9.3" letter-spacing="0.4">II</text><text transform="translate(456.4 270.7) scale(0.95 1)" fill="#1eaae6" stroke="#1eaae6" stroke-width="0.4" font-family="Liberation Serif, serif" font-style="italic" font-size="12.5">Ar</text><text x="471.9" y="273.4" fill="#1eaae6" stroke="#1eaae6" stroke-width="0.25" font-family="Liberation Sans, sans-serif" font-size="10.3">I</text><text transform="translate(473.0 56.9) scale(0.95 1)" fill="#1eaae6" stroke="#1eaae6" stroke-width="0.4" font-family="Liberation Serif, serif" font-style="italic" font-size="12.5">Ar</text><text x="488.5" y="59.6" fill="#1eaae6" stroke="#1eaae6" stroke-width="0.25" font-family="Liberation Sans, sans-serif" font-size="10.3">I</text><text transform="translate(486.0 86.3) scale(0.95 1)" fill="#1eaae6" stroke="#1eaae6" stroke-width="0.4" font-family="Liberation Serif, serif" font-style="italic" font-size="12.5">Ar</text><text x="501.5" y="89.0" fill="#1eaae6" stroke="#1eaae6" stroke-width="0.25" font-family="Liberation Sans, sans-serif" font-size="10.3">I</text><text transform="translate(501.8 286.3) scale(0.95 1)" fill="#1eaae6" stroke="#1eaae6" stroke-width="0.4" font-family="Liberation Serif, serif" font-style="italic" font-size="12.5">Ar</text><text x="517.3" y="289.0" fill="#1eaae6" stroke="#1eaae6" stroke-width="0.25" font-family="Liberation Sans, sans-serif" font-size="10.3">I</text><text transform="translate(513.6 187.5) scale(0.95 1)" fill="#1eaae6" stroke="#1eaae6" stroke-width="0.4" font-family="Liberation Serif, serif" font-style="italic" font-size="12.5">Ar</text><text x="529.1" y="190.2" fill="#1eaae6" stroke="#1eaae6" stroke-width="0.25" font-family="Liberation Sans, sans-serif" font-size="10.3">I</text></g>
<path d="M207.4 209V98.5H225.4V241 M322.6 274V254.7H345.6V266 M377.4 280.5V201.6H403.9V213" stroke="#808080" stroke-width="1.4" fill="none"/>
</svg>
</body></html>
